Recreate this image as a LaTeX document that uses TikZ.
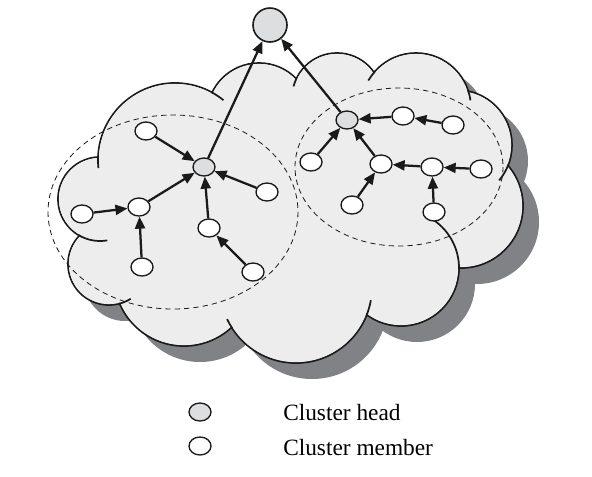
\documentclass[tikz,border=0pt]{standalone}
\usepackage{fontspec}
\setmainfont{Liberation Serif}
\usetikzlibrary{arrows.meta,shapes.geometric}
\definecolor{ink}{HTML}{1A1A1A}
\definecolor{cloudgray}{HTML}{EDEDED}
\definecolor{shadowgray}{HTML}{808285}
\definecolor{headgray}{HTML}{DCDEE0}

\begin{document}
\begin{tikzpicture}[
  x=0.75pt, y=-0.75pt,
  cmnode/.style={ellipse, draw=ink, line width=1pt, fill=white, minimum width=16.5pt, minimum height=13.5pt, inner sep=0pt},
  chnode/.style={cmnode, fill=headgray},
  sinknode/.style={circle, draw=ink, line width=1.2pt, fill=headgray, minimum size=25.5pt, inner sep=0pt},
  link/.style={-{Triangle[length=9pt,width=7.5pt]}, line width=1.7pt, draw=ink},
  rangeline/.style={draw=ink, line width=0.6pt, dash pattern=on 4pt off 3pt},
  cloudrim/.style={draw=ink, line width=1.3pt},
  keytext/.style={font=\rmfamily\fontsize{17.5}{21}\selectfont, anchor=base west, inner sep=0pt},
]
\useasboundingbox (0,0) rectangle (592,476);

% cloud lobes: centre x / centre y / radius
\def\lobes{175/160/77, 259/115/52, 337/98/45, 416/108/55, 457/145/55, 461/206/62,
  401/268/58, 296/287/76, 184/276/70, 109/264/41, 100/199/42}

% shadow
\begin{scope}[shift={(16,16)}]
\foreach \cx/\cy/\r in \lobes
  \fill[shadowgray] (\cx,\cy) circle[radius=\r];
\fill[shadowgray] (300,200) ellipse[x radius=150, y radius=90];
\end{scope}

% outline, then fill over the inner strokes
\foreach \cx/\cy/\r in \lobes
  \draw[cloudrim] (\cx,\cy) circle[radius=\r];
\foreach \cx/\cy/\r in \lobes
  \fill[cloudgray] (\cx,\cy) circle[radius=\r-0.9];
\fill[cloudgray] (300,200) ellipse[x radius=150, y radius=90];
\fill[cloudgray] (131,228) circle[radius=14];

% loose lobe ends
\foreach \cx/\cy/\r/\a/\b in {175/160/77/183/174, 175/160/77/-62/-51, 337/98/45/206/195,
  416/108/55/222/210, 416/108/55/-19/-8, 457/145/55/21/40, 401/268/58/1/-60,
  296/287/76/22/10, 296/287/76/147/155, 109/264/41/76/58, 100/199/42/121/80}
  \draw[cloudrim] (\cx,\cy) ++(\a:\r) arc[start angle=\a, end angle=\b, radius=\r];

% cluster ranges
\draw[rangeline] (173,212) ellipse[x radius=125, y radius=97];
\draw[rangeline] (399,167) ellipse[x radius=104, y radius=79];

% nodes
\node[sinknode] (sink) at (270,25) {};
\node[chnode] (headA) at (204,167) {};
\node[chnode] (headB) at (347,120) {};

\node[cmnode] (a1) at (146,131) {};
\node[cmnode] (a2) at (267,192) {};
\node[cmnode] (a3) at (139,207) {};
\node[cmnode] (a4) at (82,214) {};
\node[cmnode] (a5) at (142,267) {};
\node[cmnode] (a6) at (209,228) {};
\node[cmnode] (a7) at (253,272) {};

\node[cmnode] (b1) at (403,116) {};
\node[cmnode] (b2) at (453,125) {};
\node[cmnode] (b3) at (311,162) {};
\node[cmnode] (b4) at (381,164) {};
\node[cmnode] (b5) at (432,167) {};
\node[cmnode] (b6) at (481,169) {};
\node[cmnode] (b7) at (352,205) {};
\node[cmnode] (b8) at (434,212) {};

% links
\draw[link] (a1) -- (headA);
\draw[link] (a2) -- (headA);
\draw[link] (a3) -- (headA);
\draw[link] (a4) -- (a3);
\draw[link] (a5) -- (a3);
\draw[link] (a6) -- (headA);
\draw[link] (a7) -- (a6);

\draw[link] (b1) -- (headB);
\draw[link] (b2) -- (b1);
\draw[link] (b3) -- (headB);
\draw[link] (b4) -- (headB);
\draw[link] (b5) -- (b4);
\draw[link] (b6) -- (b5);
\draw[link] (b7) -- (b4);
\draw[link] (b8) -- (b5);

\draw[link] (headA) -- (sink);
\draw[link] (headB) -- (sink);

% legend
\node[chnode] (keyhead) at (200,412) {};
\node[cmnode] (keymember) at (200,446) {};
\node[keytext] (keyheadtext) at (283,420) {Cluster head};
\node[keytext] (keymembertext) at (283,455) {Cluster member};
\end{tikzpicture}
\end{document}
